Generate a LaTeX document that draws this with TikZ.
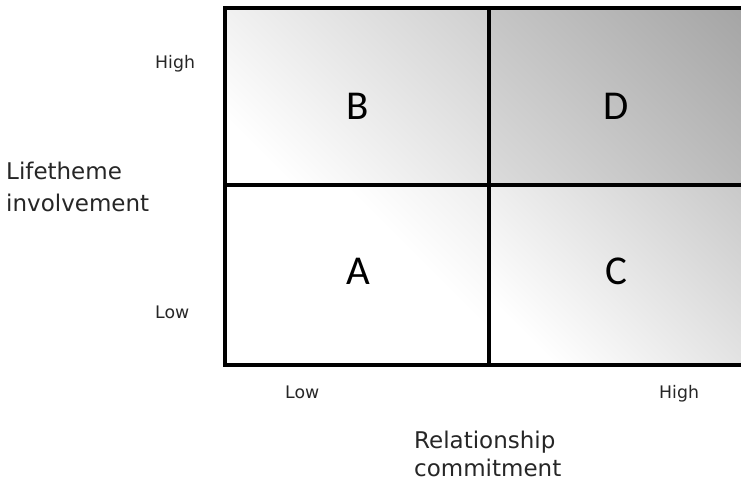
\documentclass[tikz,border=0pt]{standalone}
\usepackage{fontspec}
\setmainfont{DejaVu Sans}
\newfontfamily\letterfont{Carlito}
\pgfdeclarehorizontalshading{quadA}{100bp}{color(0bp)=(white); color(62bp)=(white); color(86bp)=(black!7); color(100bp)=(black!7)}
\pgfdeclarehorizontalshading{quadB}{100bp}{color(0bp)=(white); color(25bp)=(white); color(86bp)=(black!19); color(100bp)=(black!19)}
\pgfdeclarehorizontalshading{quadC}{100bp}{color(0bp)=(white); color(25bp)=(white); color(86bp)=(black!22); color(100bp)=(black!22)}
\pgfdeclarehorizontalshading{quadD}{100bp}{color(0bp)=(black!14); color(15bp)=(black!14); color(86bp)=(black!36); color(100bp)=(black!36)}
\tikzset{
  cell/.style={draw=black, line width=2.6pt, minimum width=263pt, anchor=north west, inner sep=0pt, shade, shading angle=45},
  letter/.style={font=\letterfont\fontsize{41}{48}\selectfont, inner sep=0pt},
  biglabel/.style={font=\fontsize{23}{27}\selectfont, inner sep=0pt, anchor=base west, text=black!85},
  smalllabel/.style={font=\fontsize{17.3}{20}\selectfont, inner sep=0pt, anchor=base west, text=black!85}
}
\begin{document}
\begin{tikzpicture}[x=1pt,y=-1pt]
\useasboundingbox (0,0) rectangle (741,482);
\begin{scope}
\clip (0,0) rectangle (741,482);
\node[cell, shading=quadB, minimum height=176pt] (B) at (224,7) {};
\node[cell, shading=quadD, minimum height=176pt] (D) at (487,7) {};
\node[cell, shading=quadA, minimum height=180pt] (A) at (224,183) {};
\node[cell, shading=quadC, minimum height=180pt] (C) at (487,183) {};
\draw[line width=2.6pt] (B.north west) rectangle (C.south east);
\draw[line width=2.6pt] (B.south west) -- (D.south east);
\draw[line width=2.6pt] (B.north east) -- (A.south east);
\end{scope}
\node[letter] (lB) at (358,106) {B};
\node[letter] (lD) at (616,106) {D};
\node[letter] (lA) at (358,271) {A};
\node[letter] (lC) at (616,271) {C};
\node[smalllabel] (yhigh) at (155,68) {High};
\node[smalllabel] (ylow) at (155,318) {Low};
\node[smalllabel] (xlow) at (285,398) {Low};
\node[smalllabel] (xhigh) at (659,398) {High};
\node[biglabel] (ylab1) at (6,179) {Lifetheme};
\node[biglabel] (ylab2) at (6,211) {involvement};
\node[biglabel] (xlab1) at (414,448) {Relationship};
\node[biglabel] (xlab2) at (414,476) {commitment};
\end{tikzpicture}
\end{document}
